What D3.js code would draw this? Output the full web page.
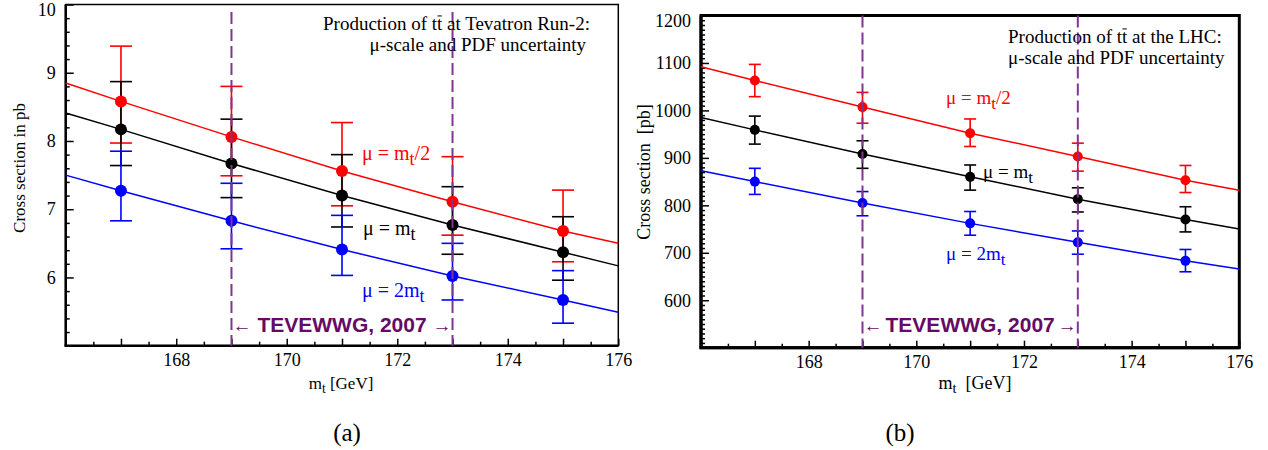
<!DOCTYPE html>
<html><head><meta charset="utf-8">
<script src="https://cdn.jsdelivr.net/npm/d3@7"></script>
<style>
body{margin:0;background:#fff}
svg{display:block}
</style>
</head><body>
<svg id="chart" width="1268" height="450"></svg>
<script>
// ---------- data ----------
const massPoints = [167, 169, 171, 173, 175];
const massRange = [166, 176];
const tevewwgRange = [169, 173];

// (a) Tevatron Run-2, cross section in pb
const tevHalf      = [8.58, 8.06, 7.56, 7.11, 6.68];
const tevHalfUp    = [9.39, 8.80, 8.27, 7.77, 7.28];
const tevHalfDn    = [7.97, 7.49, 7.05, 6.62, 6.23];
const tevHalfEdge  = [8.85, 6.50];
const tevCentral     = [8.17, 7.67, 7.20, 6.77, 6.37];
const tevCentralUp   = [8.87, 8.32, 7.80, 7.33, 6.89];
const tevCentralDn   = [7.64, 7.17, 6.74, 6.34, 5.96];
const tevCentralEdge = [8.41, 6.17];
const tevDouble     = [7.27, 6.83, 6.41, 6.02, 5.67];
const tevDoubleUp   = [7.85, 7.38, 6.91, 6.50, 6.10];
const tevDoubleDn   = [6.83, 6.42, 6.03, 5.67, 5.33];
const tevDoubleEdge = [7.50, 5.49];
const tevYDomain = [5, 10];
const tevYTicks = [6, 7, 8, 9, 10];

// (b) LHC, cross section in pb
const lhcHalf      = [1063, 1007, 952, 903, 853];
const lhcHalfUp    = [1097, 1038, 982, 931, 884];
const lhcHalfDn    = [1029, 973, 924, 872, 827];
const lhcHalfEdge  = [1092, 832];
const lhcCentral     = [959, 908, 860, 813, 770];
const lhcCentralUp   = [988, 936, 885, 837, 797];
const lhcCentralDn   = [929, 878, 832, 786, 744];
const lhcCentralEdge = [985, 750];
const lhcDouble     = [850, 805, 762, 722, 683];
const lhcDoubleUp   = [878, 829, 787, 746, 707];
const lhcDoubleDn   = [823, 778, 737, 697, 660];
const lhcDoubleEdge = [873, 666];
const lhcYDomain = [500, 1200];
const lhcYTicks = [600, 700, 800, 900, 1000, 1100, 1200];

const xTickLabels = [168, 170, 172, 174, 176];
const seriesColors = ["#ff0000", "#000000", "#0000ff"];
// ---------------------------

const SERIF = '"Liberation Serif","Times New Roman",serif';
const SANS = '"Liberation Sans",Arial,sans-serif';
const svg = d3.select("#chart");

function range(a, b, step) { const r = []; for (let v = a; v <= b + 1e-9; v += step) r.push(+v.toFixed(6)); return r; }

function drawPanel(cfg) {
  const x = d3.scaleLinear().domain(massRange).range([cfg.left, cfg.right]);
  const y = d3.scaleLinear().domain(cfg.yDomain).range([cfg.bottom, cfg.top]);
  const g = svg.append("g");

  // frame
  g.append("rect").attr("x", cfg.left).attr("y", cfg.top)
    .attr("width", cfg.right - cfg.left).attr("height", cfg.bottom - cfg.top)
    .attr("fill", "none").attr("stroke", "#000").attr("stroke-width", cfg.frameW);

  // ticks
  const yMajorAll = range(cfg.yDomain[0], cfg.yDomain[1], cfg.yMajorStep);
  const yMinor = range(cfg.yDomain[0], cfg.yDomain[1], cfg.yMinorStep)
    .filter(v => !yMajorAll.some(m => Math.abs(m - v) < 1e-6));
  const xMinor = range(massRange[0], massRange[1], 0.5).filter(v => v % 1 !== 0);

  g.append("g").attr("transform", `translate(${cfg.left},0)`)
    .call(d3.axisLeft(y).tickValues(yMinor).tickSize(-4).tickFormat(""))
    .call(a => a.select(".domain").remove());
  g.append("g").attr("transform", `translate(${cfg.left},0)`)
    .call(d3.axisLeft(y).tickValues(yMajorAll).tickSize(-8).tickFormat(""))
    .call(a => a.select(".domain").remove());
  g.append("g").attr("transform", `translate(0,${cfg.bottom})`)
    .call(d3.axisBottom(x).tickValues(xMinor).tickSize(-4).tickFormat(""))
    .call(a => a.select(".domain").remove());
  g.append("g").attr("transform", `translate(0,${cfg.bottom})`)
    .call(d3.axisBottom(x).tickValues(range(massRange[0], massRange[1], 1)).tickSize(-7).tickFormat(""))
    .call(a => a.select(".domain").remove());
  g.selectAll(".tick line").attr("stroke", "#000").attr("stroke-width", 1.5);

  // tick labels
  const yl = g.append("g").attr("transform", `translate(${cfg.left},0)`)
    .call(d3.axisLeft(y).tickValues(cfg.yTicks).tickSize(0).tickPadding(10).tickFormat(d3.format("d")));
  yl.select(".domain").remove();
  yl.selectAll("text").attr("font-size", 18).style("font-family", SERIF).attr("fill", "#000")
    .attr("dy", d => d === cfg.yDomain[1] ? "0.62em" : "0.32em");
  const xl = g.append("g").attr("transform", `translate(0,${cfg.bottom})`)
    .call(d3.axisBottom(x).tickValues(xTickLabels).tickSize(0).tickPadding(8).tickFormat(d3.format("d")));
  xl.select(".domain").remove();
  xl.selectAll("text").attr("font-size", 18).style("font-family", SERIF).attr("fill", "#000");

  // heavy left and bottom axis lines
  g.append("line").attr("x1", cfg.left).attr("x2", cfg.left).attr("y1", cfg.top).attr("y2", cfg.bottom)
    .attr("stroke", "#000").attr("stroke-width", cfg.axisW);
  g.append("line").attr("x1", cfg.left - cfg.axisW / 2).attr("x2", cfg.right).attr("y1", cfg.bottom).attr("y2", cfg.bottom)
    .attr("stroke", "#000").attr("stroke-width", cfg.axisW);

  // series
  const line = d3.line().x(d => x(d[0])).y(d => y(d[1]));
  cfg.series.forEach((s, i) => {
    const pts = [[massRange[0], s.edge[0]], ...massPoints.map((m, j) => [m, s.val[j]]), [massRange[1], s.edge[1]]];
    g.append("path").attr("d", line(pts)).attr("fill", "none").attr("stroke", seriesColors[i]).attr("stroke-width", 1.5);
  });
  cfg.series.forEach((s, i) => {
    const eb = g.append("g").attr("stroke", seriesColors[i]).attr("stroke-width", 1.6);
    massPoints.forEach((m, j) => {
      const cx = x(m);
      eb.append("line").attr("x1", cx).attr("x2", cx).attr("y1", y(s.up[j])).attr("y2", y(s.dn[j]));
      [s.up[j], s.dn[j]].forEach(v => eb.append("line")
        .attr("x1", cx - cfg.capW).attr("x2", cx + cfg.capW).attr("y1", y(v)).attr("y2", y(v)));
    });
  });
  cfg.series.forEach((s, i) => {
    g.selectAll(null).data(massPoints).enter().append("circle")
      .attr("cx", d => x(d)).attr("cy", (d, j) => y(s.val[j])).attr("r", cfg.r).attr("fill", seriesColors[i]);
  });

  // TEVEWWG dashed lines
  tevewwgRange.forEach(m => {
    g.append("line").attr("x1", x(m)).attr("x2", x(m)).attr("y1", cfg.dashTop).attr("y2", cfg.bottom)
      .attr("stroke", "#803590").attr("stroke-width", 2).attr("stroke-dasharray", "12,5");
  });
  const ty = cfg.tevY;
  g.append("text").attr("x", x(tevewwgRange[0]) + 1).attr("y", ty).attr("font-size", 19)
    .style("font-family", SERIF).attr("fill", "#660a66").text("←");
  g.append("text").attr("x", x(tevewwgRange[1]) - 1).attr("y", ty).attr("text-anchor", "end").attr("font-size", 19)
    .style("font-family", SERIF).attr("fill", "#660a66").text("→");
  g.append("text").attr("x", (x(tevewwgRange[0]) + x(tevewwgRange[1])) / 2).attr("y", ty)
    .attr("text-anchor", "middle").attr("font-size", 21).attr("font-weight", "bold")
    .style("font-family", SANS).attr("fill", "#660a66").text("TEVEWWG, 2007");

  // mu labels
  cfg.muLabels.forEach((lab, i) => {
    const t = g.append("text").attr("x", lab.x).attr("y", lab.y).attr("font-size", cfg.muSize)
      .style("font-family", SERIF).attr("fill", seriesColors[i]);
    t.append("tspan").text(lab.pre);
    t.append("tspan").attr("dy", 5).attr("font-size", cfg.muSize * 0.9).text("t");
    if (lab.post) t.append("tspan").attr("dy", -5).text(lab.post);
  });

  // annotation
  cfg.note.forEach(n => {
    const full = n.parts.map(p => p.t).join("");
    const t = g.append("text").attr("x", n.x).attr("y", n.y).attr("font-size", cfg.noteSize)
      .attr("text-anchor", n.anchor).attr("fill", "#000").style("font-family", SERIF)
      .style("white-space", "pre").text(full);
    let idx = 0;
    n.parts.forEach(p => {
      if (p.over) {
        const e = t.node().getExtentOfChar(idx);
        const by = n.y - cfg.noteSize * 0.74;
        g.append("line").attr("x1", e.x + 0.5).attr("x2", e.x + e.width - 0.5)
          .attr("y1", by).attr("y2", by).attr("stroke", "#000").attr("stroke-width", 1);
      }
      idx += p.t.length;
    });
  });

  // axis titles
  g.append("text").attr("transform", `translate(${cfg.yTitleX},${cfg.yTitleY}) rotate(-90)`)
    .attr("text-anchor", "middle").attr("font-size", cfg.titleSize).style("font-family", SERIF)
    .style("white-space", "pre").text(cfg.yTitle);
  const xt = g.append("text").attr("x", cfg.xTitleX).attr("y", cfg.xTitleY).attr("text-anchor", "middle")
    .attr("font-size", cfg.titleSize).style("font-family", SERIF).style("white-space", "pre");
  xt.append("tspan").text("m");
  xt.append("tspan").attr("dy", 4).attr("font-size", cfg.titleSize * 0.8).text("t");
  xt.append("tspan").attr("dy", -4).text(cfg.xTitleRest);

  // caption
  svg.append("text").attr("x", cfg.capX).attr("y", 441).attr("text-anchor", "middle")
    .attr("font-size", 25).style("font-family", SERIF).text(cfg.caption);
}

drawPanel({
  left: 65.7, right: 618.3, top: 4.5, bottom: 345.7,
  frameW: 1.5, axisW: 2.5,
  yDomain: tevYDomain, yTicks: tevYTicks, yMajorStep: 1, yMinorStep: 0.2,
  capW: 11, r: 6,
  series: [
    {val: tevHalf, up: tevHalfUp, dn: tevHalfDn, edge: tevHalfEdge},
    {val: tevCentral, up: tevCentralUp, dn: tevCentralDn, edge: tevCentralEdge},
    {val: tevDouble, up: tevDoubleUp, dn: tevDoubleDn, edge: tevDoubleEdge}
  ],
  dashTop: 12, tevY: 332,
  muSize: 20, noteSize: 19,
  muLabels: [
    {x: 362, y: 160, pre: "μ = m", post: "/2"},
    {x: 363, y: 235, pre: "μ = m"},
    {x: 362, y: 297, pre: "μ = 2m"}
  ],
  note: [
    {x: 323, y: 30, anchor: "start", parts: [{t: "Production of t"}, {t: "t", over: true}, {t: " at Tevatron Run-2:"}]},
    {x: 586, y: 51, anchor: "end", parts: [{t: "μ-scale and PDF uncertainty"}]}
  ],
  yTitle: "Cross section in pb", yTitleX: 25, yTitleY: 168, titleSize: 17,
  xTitleX: 341, xTitleY: 389, xTitleRest: " [GeV]",
  capX: 347, caption: "(a)"
});

drawPanel({
  left: 701, right: 1239.3, top: 15.5, bottom: 347.7,
  frameW: 3, axisW: 3,
  yDomain: lhcYDomain, yTicks: lhcYTicks, yMajorStep: 100, yMinorStep: 10,
  capW: 6, r: 5,
  series: [
    {val: lhcHalf, up: lhcHalfUp, dn: lhcHalfDn, edge: lhcHalfEdge},
    {val: lhcCentral, up: lhcCentralUp, dn: lhcCentralDn, edge: lhcCentralEdge},
    {val: lhcDouble, up: lhcDoubleUp, dn: lhcDoubleDn, edge: lhcDoubleEdge}
  ],
  dashTop: 15.5, tevY: 332,
  muSize: 19, noteSize: 19,
  muLabels: [
    {x: 946, y: 104, pre: "μ = m", post: "/2"},
    {x: 983, y: 178, pre: "μ = m"},
    {x: 946, y: 260, pre: "μ = 2m"}
  ],
  note: [
    {x: 1008, y: 43, anchor: "start", parts: [{t: "Production of t"}, {t: "t", over: true}, {t: " at the LHC:"}]},
    {x: 1008, y: 64, anchor: "start", parts: [{t: "μ-scale and PDF uncertainty"}]}
  ],
  yTitle: "Cross section  [pb]", yTitleX: 650, yTitleY: 172, titleSize: 18,
  xTitleX: 975, xTitleY: 389, xTitleRest: "  [GeV]",
  capX: 900, caption: "(b)"
});
</script>
</body></html>
